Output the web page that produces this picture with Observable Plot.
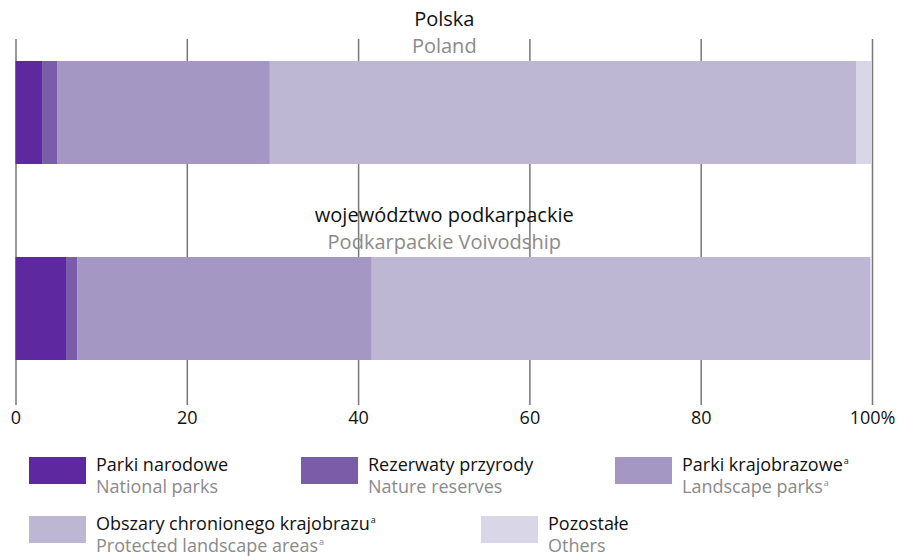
<!DOCTYPE html>
<html>
<head>
<meta charset="utf-8">
<script src="https://cdn.jsdelivr.net/npm/d3@7"></script>
<script src="https://cdn.jsdelivr.net/npm/@observablehq/plot@0.6"></script>
<style>
  body { margin: 0; background: #fff; font-family: "Open Sans", sans-serif; }
  #wrap { position: relative; width: 898px; height: 556px; overflow: hidden; }
  .sw { position: absolute; width: 57px; height: 27px; }
  .pl { position: absolute; white-space: nowrap; font-size: 18px; color: #111; line-height: 20px; }
  .en { position: absolute; white-space: nowrap; font-size: 18px; color: #8a8a8a; line-height: 20px; }
  sup { font-size: 9px; vertical-align: 7px; line-height: 0; margin-left: 1px; }
</style>
</head>
<body>
<div id="wrap"></div>
<script>
const categories = ["Polska", "województwo podkarpackie"];
const categoriesEn = ["Poland", "Podkarpackie Voivodship"];
const types = ["Parki narodowe", "Rezerwaty przyrody", "Parki krajobrazowe", "Obszary chronionego krajobrazu", "Pozostałe"];
const typesEn = ["National parks", "Nature reserves", "Landscape parks", "Protected landscape areas", "Others"];
const typeNote = [false, false, true, true, false];
const polskaValues = [3.1, 1.75, 24.85, 68.5, 1.8];
const podkarpackieValues = [5.9, 1.3, 34.4, 58.2, 0.2];
const xTicks = [0, 20, 40, 60, 80, 100];
const colors = ["#5e28a0", "#7a5ca9", "#a597c4", "#bdb7d4", "#d9d6e7"];

const seriesValues = [polskaValues, podkarpackieValues];
const table = categories.flatMap((c, i) =>
  types.map((t, j) => ({category: c, type: t, value: seriesValues[i][j]}))
);
const titles = categories.map((c, i) => ({category: c, en: categoriesEn[i]}));

const chart = Plot.plot({
  width: 898,
  height: 430,
  marginLeft: 15.5,
  marginRight: 26,
  marginTop: 39,
  marginBottom: 25,
  style: {fontFamily: "Open Sans, sans-serif", color: "#111", background: "transparent"},
  x: {domain: [0, 100], axis: null, label: null},
  y: {domain: categories, axis: null, paddingInner: 0.472, paddingOuter: 0.165, align: 0.338},
  color: {domain: types, range: colors},
  marks: [
    Plot.gridX(xTicks, {stroke: "#777", strokeOpacity: 1, strokeWidth: 1.5}),
    Plot.barX(table, Plot.stackX({x: "value", y: "category", fill: "type", z: "type", order: null})),
    Plot.axisX(xTicks, {tickSize: 0, tickPadding: 6, fontSize: 18, label: null, tickFormat: d => d === 100 ? "100%" : String(d)}),
    Plot.text(titles, {y: "category", text: "category", dy: -93, fontSize: 20, fill: "#111"}),
    Plot.text(titles, {y: "category", text: "en", dy: -66, fontSize: 20, fill: "#8a8a8a"})
  ]
});

const wrap = document.getElementById("wrap");
wrap.appendChild(chart);

// legend (HTML below the SVG)
const legendPos = [
  {sx: 29, sy: 457}, {sx: 301, sy: 457}, {sx: 615, sy: 457},
  {sx: 29, sy: 516}, {sx: 481, sy: 516}
];
types.forEach((t, i) => {
  const p = legendPos[i];
  const sw = document.createElement("div");
  sw.className = "sw";
  sw.style.left = p.sx + "px";
  sw.style.top = p.sy + "px";
  sw.style.background = colors[i];
  wrap.appendChild(sw);
  const pl = document.createElement("div");
  pl.className = "pl";
  pl.style.left = (p.sx + 67) + "px";
  pl.style.top = (p.sy - 3) + "px";
  pl.innerHTML = t + (typeNote[i] ? "<sup>a</sup>" : "");
  wrap.appendChild(pl);
  const en = document.createElement("div");
  en.className = "en";
  en.style.left = (p.sx + 67) + "px";
  en.style.top = (p.sy + 19) + "px";
  en.innerHTML = typesEn[i] + (typeNote[i] ? "<sup>a</sup>" : "");
  wrap.appendChild(en);
});
chart.style.position = "absolute";
chart.style.left = "0px";
chart.style.top = "0px";
</script>
</body>
</html>
